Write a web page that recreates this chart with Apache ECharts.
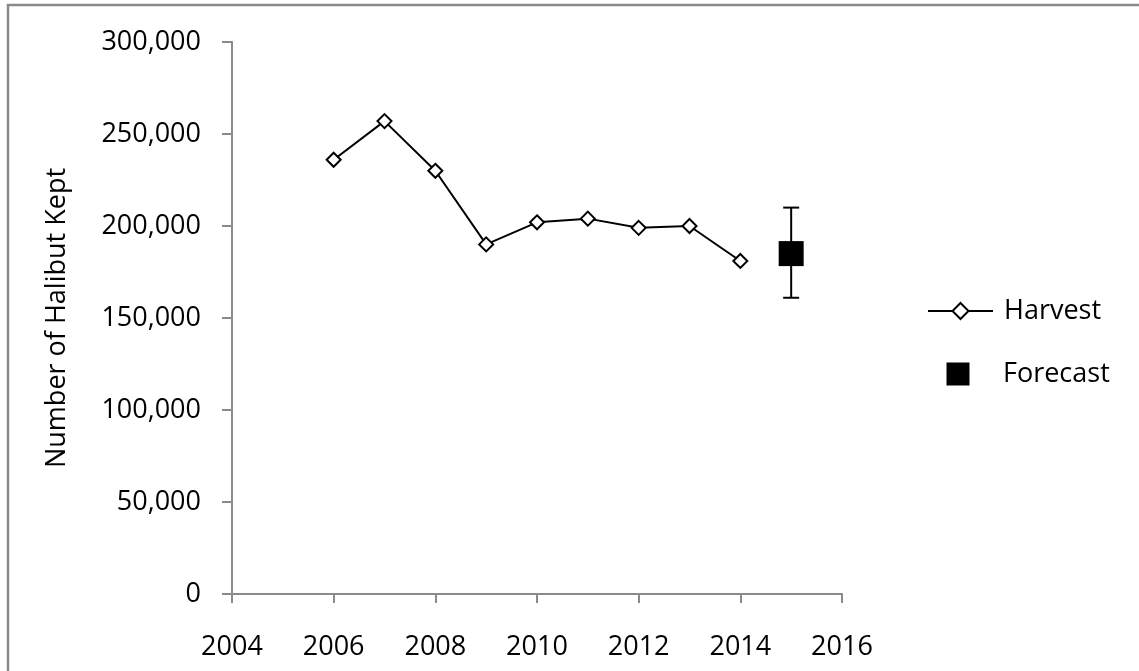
<!DOCTYPE html>
<html>
<head>
<meta charset="utf-8">
<script src="https://cdn.jsdelivr.net/npm/echarts@6/dist/echarts.min.js"></script>
<style>
html,body{margin:0;padding:0;background:#fff;}
#chart{width:1139px;height:671px;}
</style>
</head>
<body>
<div id="chart"></div>
<script>
var years = [2006, 2007, 2008, 2009, 2010, 2011, 2012, 2013, 2014];
var harvest = [236000, 257000, 230000, 190000, 202000, 204000, 199000, 200000, 181000];
var forecastYear = [2015];
var forecastValue = [185000];
var forecastLow = [161000];
var forecastHigh = [210000];
var xTicks = [2004, 2006, 2008, 2010, 2012, 2014, 2016];
var yTicks = [0, 50000, 100000, 150000, 200000, 250000, 300000];

var FONT = 'Open Sans';
var FS = 27;
var chart = echarts.init(document.getElementById('chart'), null, {renderer: 'canvas'});

function fmt(v) { return v.toLocaleString('en-US'); }

var option = {
  animation: false,
  backgroundColor: '#fff',
  textStyle: {fontFamily: FONT},
  graphic: [{
    type: 'rect',
    shape: {x: 8, y: 5, width: 1200, height: 800},
    style: {fill: 'none', stroke: '#8a8a8a', lineWidth: 2.5},
    silent: true, z: -1
  }],
  grid: {left: 232, right: 297, top: 42, bottom: 77},
  xAxis: {
    type: 'value',
    min: xTicks[0], max: xTicks[xTicks.length - 1], interval: 2,
    axisLine: {lineStyle: {color: '#8a8a8a', width: 2}},
    axisTick: {show: true, length: 9, lineStyle: {color: '#8a8a8a', width: 2}},
    splitLine: {show: false},
    axisLabel: {color: '#000', fontSize: FS, fontFamily: FONT, margin: 40, formatter: function (v) { return String(v); }}
  },
  yAxis: {
    type: 'value',
    min: yTicks[0], max: yTicks[yTicks.length - 1], interval: 50000,
    name: 'Number of Halibut Kept',
    nameLocation: 'middle',
    nameGap: 161,
    nameTextStyle: {color: '#000', fontSize: FS, fontFamily: FONT},
    axisLine: {show: true, lineStyle: {color: '#8a8a8a', width: 2}},
    axisTick: {show: true, length: 10, lineStyle: {color: '#8a8a8a', width: 2}},
    splitLine: {show: false},
    axisLabel: {color: '#000', fontSize: FS, fontFamily: FONT, margin: 31, formatter: fmt}
  },
  legend: [{
    data: ['Harvest'],
    left: 927, top: 297.5, padding: 0,
    itemWidth: 65, itemHeight: 20,
    textStyle: {color: '#000', fontSize: FS, fontFamily: FONT, padding: [0, 0, 0, 6]}
  }, {
    data: [{name: 'Forecast', icon: 'rect', itemStyle: {color: '#000', opacity: 1}}],
    left: 946.5, top: 360.5, padding: 0,
    itemWidth: 23, itemHeight: 23,
    textStyle: {color: '#000', fontSize: FS, fontFamily: FONT, padding: [0, 0, 0, 28.5]}
  }],
  series: [{
    name: 'Harvest',
    type: 'line',
    data: years.map(function (y, i) { return [y, harvest[i]]; }),
    symbol: 'diamond',
    symbolSize: 14,
    showAllSymbol: true,
    lineStyle: {color: '#000', width: 2},
    itemStyle: {color: '#fff', borderColor: '#000', borderWidth: 2},
    z: 3
  }, {
    name: 'ForecastError',
    type: 'custom',
    data: forecastYear.map(function (y, i) { return [y, forecastLow[i], forecastHigh[i]]; }),
    renderItem: function (params, api) {
      var lo = api.coord([api.value(0), api.value(1)]);
      var hi = api.coord([api.value(0), api.value(2)]);
      var hw = 8;
      return {
        type: 'group',
        children: [
          {type: 'line', shape: {x1: lo[0], y1: lo[1], x2: hi[0], y2: hi[1]}, style: {stroke: '#000', lineWidth: 2}},
          {type: 'line', shape: {x1: lo[0] - hw, y1: lo[1], x2: lo[0] + hw, y2: lo[1]}, style: {stroke: '#000', lineWidth: 2}},
          {type: 'line', shape: {x1: hi[0] - hw, y1: hi[1], x2: hi[0] + hw, y2: hi[1]}, style: {stroke: '#000', lineWidth: 2}}
        ]
      };
    },
    z: 2
  }, {
    name: 'Forecast',
    type: 'scatter',
    data: forecastYear.map(function (y, i) { return [y, forecastValue[i]]; }),
    symbol: 'rect',
    symbolSize: 25,
    itemStyle: {color: '#000', opacity: 1},
    z: 4
  }]
};
chart.setOption(option);
</script>
</body>
</html>
